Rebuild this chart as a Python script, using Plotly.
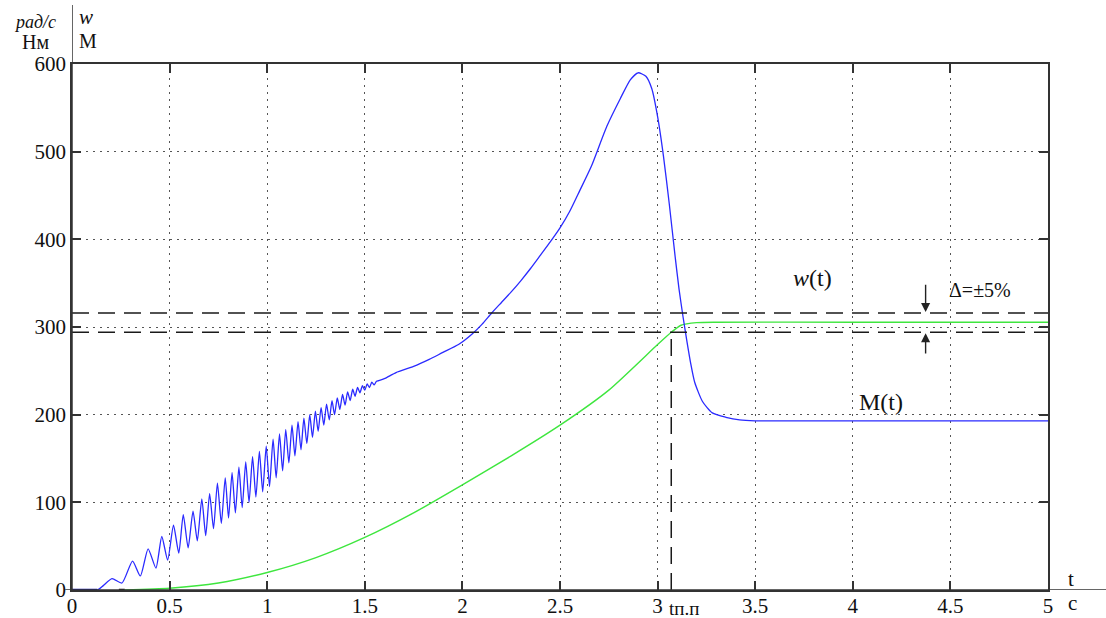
import plotly.graph_objects as go

# ---------------- data ----------------
# w(t): angular speed (blue)
w_t = [0.0, 0.13, 0.16,
       0.205, 0.256, 0.31, 0.35, 0.39, 0.43, 0.46, 0.49, 0.52, 0.547, 0.57, 0.595,
       0.62, 0.642, 0.665, 0.685, 0.705, 0.725, 0.745, 0.765, 0.785, 0.802, 0.82, 0.837,
       0.855, 0.872, 0.89, 0.907, 0.925, 0.942, 0.96, 0.977, 0.995, 1.012, 1.03, 1.046,
       1.063, 1.079, 1.095, 1.111, 1.127, 1.142, 1.158, 1.173, 1.188, 1.203, 1.218, 1.232,
       1.247, 1.261, 1.276, 1.29, 1.304, 1.318, 1.332, 1.345, 1.359, 1.372, 1.386, 1.399,
       1.412, 1.425, 1.438, 1.45, 1.463, 1.475, 1.488, 1.5, 1.512, 1.524, 1.536, 1.548, 1.56,
       1.6, 1.66, 1.75, 1.83, 1.9, 1.98, 2.05, 2.1, 2.15, 2.2, 2.25, 2.3, 2.35, 2.4, 2.45,
       2.5, 2.55, 2.6, 2.66, 2.74, 2.81, 2.86, 2.9, 2.94, 2.97, 3.0, 3.03, 3.06, 3.09,
       3.11, 3.13, 3.15, 3.17, 3.19, 3.23, 3.28, 3.35, 3.42, 3.5, 4.0, 4.5, 5.0]
w_v = [0, 0, 5,
       13, 8, 33, 16, 47, 25, 61, 34, 74, 42, 86, 48,
       90, 56, 104, 62, 110, 70, 122, 76, 128, 82, 134, 88,
       140, 94, 146, 100, 152, 106, 158, 112, 164, 118, 172, 128,
       178, 136, 183, 145, 188, 153, 192, 160, 196, 167, 200, 174,
       204, 181, 208, 188, 212, 194, 216, 200, 219, 206, 223, 211,
       226, 216, 229, 221, 231, 225, 233, 228, 235, 231, 237, 234, 238,
       241, 248, 255, 263, 271, 280, 292, 303, 316, 328, 340, 353, 367, 382, 397,
       413, 432, 455, 483, 529, 561, 582, 590, 586, 572, 540, 495, 440, 380,
       343, 312, 284, 258, 237, 215, 202, 197, 194, 193, 193, 193, 193]

# M(t): torque (green)
m_t = [0.27, 0.5, 0.75, 1.0, 1.25, 1.5, 1.75, 2.0, 2.25, 2.5, 2.75, 3.0, 3.07, 3.12, 3.2, 3.3, 4.0, 5.0]
m_v = [0, 2, 8, 20, 37, 60, 88, 120, 153, 188, 228, 280, 294, 302, 305, 305.5, 305.5, 305.5]

# tolerance band and settling time
band_hi = 316
band_lo = 294
t_settle = 3.07

x_ticks = [0, 0.5, 1, 1.5, 2, 2.5, 3, 3.5, 4, 4.5, 5]
x_tick_text = ["0", "0.5", "1", "1.5", "2", "2.5", "3", "3.5", "4", "4.5", "5"]
y_ticks = [0, 100, 200, 300, 400, 500, 600]
y_tick_text = ["0", "100", "200", "300", "400", "500", "600"]

# ---------------- figure ----------------
SERIF = "Liberation Serif, Times New Roman, serif"
DARK = "#333333"
DASH = "17px,9px"
INK = "#111111"

fig = go.Figure()

fig.add_trace(go.Scatter(x=m_t, y=m_v, mode="lines",
                         line=dict(color="#3ee63e", width=1.4, shape="spline", smoothing=0.6),
                         hoverinfo="skip"))
fig.add_trace(go.Scatter(x=w_t, y=w_v, mode="lines",
                         line=dict(color="#2a2aff", width=1.3, shape="spline", smoothing=0.6),
                         hoverinfo="skip"))
fig.add_trace(go.Scatter(x=[0, 0.13], y=[0, 0], mode="lines",
                         line=dict(color="#1010a0", width=2.5), hoverinfo="skip"))
fig.add_trace(go.Scatter(x=[0.24, 0.27], y=[0, 0], mode="lines",
                         line=dict(color="#111111", width=2.5), hoverinfo="skip"))

# tolerance band dashed lines
for yv in (band_hi, band_lo):
    fig.add_shape(type="line", xref="x", yref="y", x0=0, x1=5, y0=yv, y1=yv,
                  line=dict(color="#1a1a1a", width=1.5, dash=DASH))
# settling time vertical dashed line
fig.add_shape(type="line", xref="x", yref="y", x0=t_settle, x1=t_settle, y0=0, y1=band_lo,
              line=dict(color="#1a1a1a", width=1.5, dash=DASH))

# axis extensions
fig.add_shape(type="line", xref="paper", yref="y", x0=-0.007, x1=1.06, y0=0, y1=0,
              line=dict(color=DARK, width=1.5))
fig.add_shape(type="line", xref="x", yref="paper", x0=0, x1=0, y0=0, y1=1.112,
              line=dict(color=DARK, width=1.5))

# arrows for delta band
fig.add_annotation(x=4.373, y=band_hi + 1, ax=4.373, ay=350, xref="x", yref="y",
                   axref="x", ayref="y", showarrow=True, arrowhead=2, arrowsize=1.3,
                   arrowwidth=1.4, arrowcolor="#222222", text="")
fig.add_annotation(x=4.373, y=band_lo - 1, ax=4.373, ay=268, xref="x", yref="y",
                   axref="x", ayref="y", showarrow=True, arrowhead=2, arrowsize=1.3,
                   arrowwidth=1.4, arrowcolor="#222222", text="")


def label(x, y, text, size, xref="x", yref="y"):
    fig.add_annotation(x=x, y=y, xref=xref, yref=yref, text=text, showarrow=False,
                       xanchor="center", yanchor="middle",
                       font=dict(family=SERIF, size=size, color=INK))


label(3.796, 356, "<i>w</i>(t)", 24)
label(4.652, 342, "Δ=±5%", 20)
label(4.145, 214, "M(t)", 24)

# units / axis names
label(-0.0379, 1.0798, "<i>рад/с</i>", 18, "paper", "paper")
label(-0.0369, 1.0418, "Нм", 20, "paper", "paper")
label(0.0143, 1.0894, "<i>w</i>", 21, "paper", "paper")
label(0.0164, 1.0437, "M", 20, "paper", "paper")
label(1.0236, 0.0209, "t", 21, "paper", "paper")
label(1.0256, -0.0247, "с", 21, "paper", "paper")
label(0.627, -0.0361, "tп.п", 19, "paper", "paper")

grid_common = dict(showgrid=True, gridcolor="#555555", gridwidth=1, griddash="2px,5px",
                   zeroline=False, showline=True, linecolor=DARK, linewidth=1.5,
                   mirror="ticks", ticks="inside", ticklen=9, tickwidth=1.5,
                   tickcolor=DARK, automargin=False,
                   tickfont=dict(family=SERIF, size=21, color=INK))

fig.update_xaxes(range=[0, 5], tickvals=x_ticks, ticktext=x_tick_text,
                 ticklabelstandoff=-4, **grid_common)
fig.update_yaxes(range=[0, 600], tickvals=y_ticks, ticktext=y_tick_text, **grid_common)

fig.update_layout(
    width=1106, height=618,
    margin=dict(l=72, r=58, t=64, b=28, autoexpand=False),
    paper_bgcolor="white", plot_bgcolor="white",
    showlegend=False,
)

fig.write_html("out.html", config={"displayModeBar": False},
               post_script="document.body.style.margin='0';")
